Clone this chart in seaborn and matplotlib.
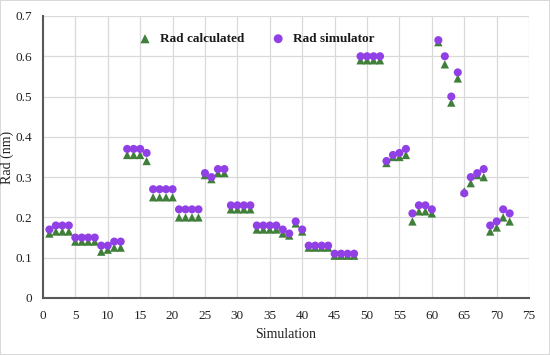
import matplotlib
matplotlib.use("Agg")
import matplotlib.pyplot as plt
import pandas as pd
import seaborn as sns

simulation = list(range(1, 73))
rad_calculated = [
    0.16, 0.165, 0.165, 0.165, 0.14, 0.14, 0.14, 0.14, 0.115, 0.12, 0.125, 0.125,
    0.355, 0.355, 0.355, 0.34, 0.25, 0.25, 0.25, 0.25, 0.20, 0.20, 0.20, 0.20,
    0.305, 0.295, 0.31, 0.31, 0.22, 0.22, 0.22, 0.22, 0.17, 0.17, 0.17, 0.17,
    0.16, 0.155, 0.185, 0.165, 0.125, 0.125, 0.125, 0.125, 0.105, 0.105, 0.105, 0.105,
    0.59, 0.59, 0.59, 0.59, 0.335, 0.35, 0.35, 0.355, 0.19, 0.215, 0.215, 0.21,
    0.635, 0.58, 0.485, 0.545, 0.265, 0.285, 0.305, 0.30, 0.165, 0.175, 0.20, 0.19,
]
rad_simulator = [
    0.17, 0.18, 0.18, 0.18, 0.15, 0.15, 0.15, 0.15, 0.13, 0.13, 0.14, 0.14,
    0.37, 0.37, 0.37, 0.36, 0.27, 0.27, 0.27, 0.27, 0.22, 0.22, 0.22, 0.22,
    0.31, 0.30, 0.32, 0.32, 0.23, 0.23, 0.23, 0.23, 0.18, 0.18, 0.18, 0.18,
    0.17, 0.16, 0.19, 0.17, 0.13, 0.13, 0.13, 0.13, 0.11, 0.11, 0.11, 0.11,
    0.60, 0.60, 0.60, 0.60, 0.34, 0.355, 0.36, 0.37, 0.21, 0.23, 0.23, 0.22,
    0.64, 0.60, 0.50, 0.56, 0.26, 0.30, 0.31, 0.32, 0.18, 0.19, 0.22, 0.21,
]
x_ticks = list(range(0, 80, 5))
y_ticks = [0, 0.1, 0.2, 0.3, 0.4, 0.5, 0.6, 0.7]

df = pd.DataFrame({'Simulation': simulation,
                   'Rad calculated': rad_calculated,
                   'Rad simulator': rad_simulator})

sns.set_theme(style='whitegrid')
plt.rcParams['font.family'] = ['Liberation Serif', 'DejaVu Serif']

fig = plt.figure(figsize=(5.5, 3.55), dpi=100)
fig.patch.set_edgecolor('#d9d9d9')
fig.patch.set_linewidth(1.2)
ax = fig.add_axes([0.078, 0.1606, 0.884, 0.7944])

green = '#3f7f3a'
purple = '#9140e6'
sns.scatterplot(data=df, x='Simulation', y='Rad calculated', marker='^', s=36,
                color=green, edgecolor='none', ax=ax, label='Rad calculated', zorder=3)
sns.scatterplot(data=df, x='Simulation', y='Rad simulator', marker='o', s=34,
                color=purple, edgecolor='none', ax=ax, label='Rad simulator', zorder=4)

ax.set_xlim(0, 75)
ax.set_ylim(0, 0.7)
ax.set_xticks(x_ticks)
ax.set_yticks(y_ticks)
ax.set_yticklabels(['0'] + [f'{v:.1f}' for v in y_ticks[1:]])
ax.grid(True, color='#d9d9d9', linewidth=0.9)
ax.set_axisbelow(True)
for side in ['top', 'right']:
    ax.spines[side].set_visible(False)
for side in ['left', 'bottom']:
    ax.spines[side].set_color('#595959')
    ax.spines[side].set_linewidth(1.5)
ax.tick_params(axis='x', length=0, labelsize=9.5, colors='#222222', pad=9)
ax.tick_params(axis='y', length=0, labelsize=9.5, colors='#222222', pad=8)
ax.set_xlabel('Simulation', fontsize=10, color='#222222')
ax.set_ylabel('Rad (nm)', fontsize=10, color='#222222')
ax.xaxis.set_label_coords(0.5, -0.105)
ax.yaxis.set_label_coords(-0.059, 0.5)

leg = ax.legend(loc='center', bbox_to_anchor=(0.46, 0.89), bbox_transform=fig.transFigure,
                ncol=2, frameon=False, fontsize=9.5, handletextpad=0.1, columnspacing=1.6,
                markerscale=1.1)
for t in leg.get_texts():
    t.set_color('#1a1a1a')
    t.set_fontweight('bold')

fig.savefig('out.png', dpi=100)
